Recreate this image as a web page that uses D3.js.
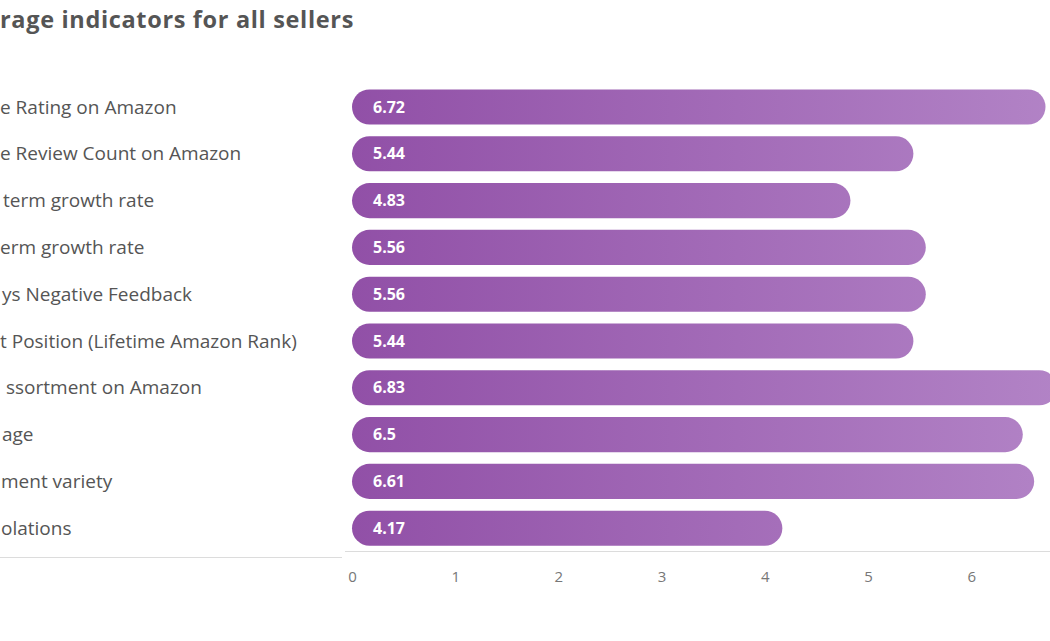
<!DOCTYPE html>
<html><head><meta charset="utf-8">
<script src="https://cdn.jsdelivr.net/npm/d3@7"></script>
<style>
html,body{margin:0;padding:0;background:#fff;overflow:hidden;}
svg{display:block;font-family:"Open Sans","Noto Sans",sans-serif;}
</style></head>
<body>
<svg id="chart" width="1050" height="641"></svg>
<script>
// Visible portions of the texts (the reference is cropped at the left edge)
const title = "rage indicators for all sellers";
const categories = [
  "e Rating on Amazon",
  "e Review Count on Amazon",
  "term growth rate",
  "erm growth rate",
  "ys Negative Feedback",
  "t Position (Lifetime Amazon Rank)",
  "ssortment on Amazon",
  "age",
  "ment variety",
  "olations"
];
const labelOffsets = [0, 0, 3, 0, 2, 0, 6, 2, 1, 1];
const values = [6.72, 5.44, 4.83, 5.56, 5.56, 5.44, 6.83, 6.5, 6.61, 4.17];
const tickValues = [0, 1, 2, 3, 4, 5, 6];

const svg = d3.select("#chart");
const x = d3.scaleLinear().domain([0, 1]).range([352, 455.2]);
const y = d3.scaleBand().domain(categories).range([83.6, 551.6]).paddingInner(0.25).paddingOuter(0.125);

const defs = svg.append("defs");
const grad = defs.append("linearGradient").attr("id", "barGrad")
  .attr("gradientUnits", "userSpaceOnUse")
  .attr("x1", x(0)).attr("x2", x(6.83)).attr("y1", 0).attr("y2", 0);
grad.append("stop").attr("offset", "0%").attr("stop-color", "#9150a7");
grad.append("stop").attr("offset", "100%").attr("stop-color", "#b283c6");

function measure(text, size, weight) {
  const t = svg.append("text").attr("font-size", size).attr("font-weight", weight).text(text);
  const w = t.node().getComputedTextLength();
  t.remove();
  return w;
}

// title (scaled towards the reference's width, letter-spaced for the rest)
const titleSize = Math.min(23.5, 22 * 354 / measure(title, 22, 700));
const tEl = svg.append("text").attr("x", 0).attr("y", 28)
  .attr("font-size", titleSize).attr("font-weight", 700).attr("fill", "#555")
  .text(title);
const tLen = tEl.node().getComputedTextLength();
if (tLen < 354) tEl.attr("letter-spacing", (354 - tLen) / title.length);

// category labels
const labelSize = Math.min(19, 17 * 184 / measure(categories[0], 17, 400));
svg.append("g").selectAll("text").data(categories).join("text")
  .attr("x", (d, i) => labelOffsets[i])
  .attr("y", d => y(d) + y.bandwidth() / 2)
  .attr("dy", "0.35em")
  .attr("font-size", labelSize).attr("fill", "#555")
  .text(d => d);

svg.append("line").attr("x1", 0).attr("x2", 342).attr("y1", 557.5).attr("y2", 557.5)
  .attr("stroke", "#dcdcdc").attr("stroke-width", 1);

const axis = d3.axisBottom(x).tickValues(tickValues).tickSize(0).tickPadding(20).tickFormat(d3.format("d"));
const ax = svg.append("g").attr("transform", "translate(0,551.5)").call(axis);
ax.select(".domain").remove();
ax.append("line").attr("x1", 345).attr("x2", 1050).attr("y1", 0).attr("y2", 0)
  .attr("stroke", "#dcdcdc");
ax.selectAll(".tick text").attr("font-size", 15).attr("fill", "#777")
  .attr("font-family", "'Open Sans','Noto Sans',sans-serif");

const bh = y.bandwidth();
svg.append("g").selectAll("rect").data(values).join("rect")
  .attr("x", x(0))
  .attr("y", (d, i) => y(categories[i]))
  .attr("width", d => x(d) - x(0))
  .attr("height", bh)
  .attr("rx", bh / 2).attr("ry", bh / 2)
  .attr("fill", "url(#barGrad)");

svg.append("g").selectAll("text").data(values).join("text")
  .attr("x", x(0) + 21)
  .attr("y", (d, i) => y(categories[i]) + bh / 2)
  .attr("dy", "0.35em")
  .attr("font-size", 16).attr("font-weight", 700).attr("fill", "#fff")
  .text(d => d);
</script>
</body></html>
